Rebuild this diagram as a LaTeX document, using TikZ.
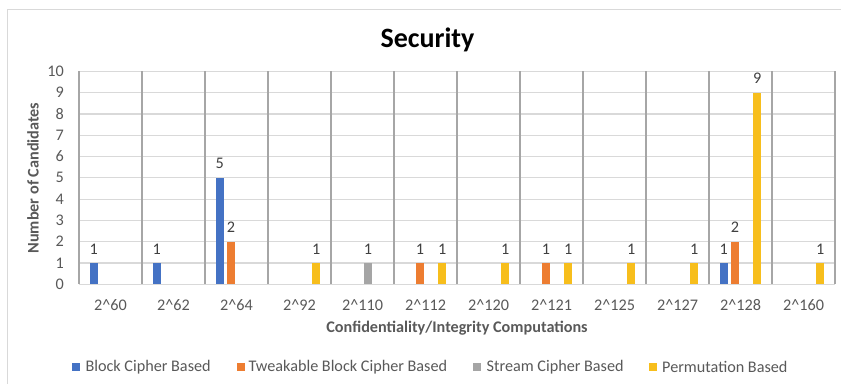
\documentclass[tikz,border=0pt]{standalone}
\usepackage{fontspec}
\setmainfont{Carlito}
\definecolor{cB}{HTML}{4472C4}
\definecolor{cT}{HTML}{ED7D31}
\definecolor{cS}{HTML}{A5A5A5}
\definecolor{cP}{HTML}{F7BE1C}
\definecolor{gridc}{HTML}{D9D9D9}
\definecolor{sepc}{HTML}{A6A6A6}
\definecolor{tickc}{HTML}{595959}
\definecolor{valc}{HTML}{404040}
\tikzset{
  gridline/.style={draw=gridc, line width=1.2pt},
  sepline/.style={draw=sepc, line width=2pt},
  ticklab/.style={text=tickc, inner sep=0pt},
  vallab/.style={text=valc, inner sep=0pt},
  axtitle/.style={text=tickc, inner sep=0pt, font=\fontsize{16.2}{19}\selectfont\bfseries},
  legbox/.style={minimum size=8pt, inner sep=0pt},
  legtext/.style={text=tickc, anchor=west, inner sep=0pt}
}
\begin{document}
\begin{tikzpicture}[x=1pt,y=-1pt,font=\fontsize{16.2}{19}\selectfont]
\useasboundingbox (0,0) rectangle (841,384);
\fill[white] (0,0) rectangle (841,384);
\draw[gridc, line width=1pt] (841,9) -- (7,9) -- (7,384);
% title
\node[inner sep=0pt, anchor=base, font=\fontsize{28}{32}\selectfont\bfseries] (title) at (427.5,47) {Security};
% horizontal gridlines and y tick labels
\foreach \v in {0,...,10}{
  \draw[gridline] (79,{284.3-21.3*\v}) -- (835,{284.3-21.3*\v});
  \node[ticklab, anchor=east] (y\v) at (64,{284.3-21.3*\v}) {\v};
}
% category separators
\foreach \k in {0,...,12}{
  \draw[sepline] ({79+63*\k},71.3) -- ({79+63*\k},284.3);
}
% x tick labels
\foreach \k/\t in {0/60,1/62,2/64,3/92,4/110,5/112,6/120,7/121,8/125,9/127,10/128,11/160}{
  \node[ticklab] (x\k) at ({79+63*\k+31.5},305) {2\textasciicircum\t};
}
% bars
\foreach \k/\s/\v/\c in {0/0/1/cB,1/0/1/cB,2/0/5/cB,2/1/2/cT,3/3/1/cP,4/2/1/cS,5/1/1/cT,5/3/1/cP,6/3/1/cP,7/1/1/cT,7/3/1/cP,8/3/1/cP,9/3/1/cP,10/0/1/cB,10/1/2/cT,10/3/9/cP,11/3/1/cP}{
  \pgfmathsetmacro\xc{79+63*\k+31.5+(\s-1.5)*11.2}
  \fill[\c] ({\xc-4},284.3) rectangle ({\xc+4},{284.3-21.3*\v});
  \node[vallab] (v\k-\s) at (\xc,{284.3-21.3*\v-14}) {\v};
}
% axis titles
\node[axtitle] (xt) at (457,328) {Confidentiality/Integrity Computations};
\node[axtitle, rotate=90] (yt) at (33,178) {Number of Candidates};
% legend
\node[legbox, fill=cB] (lb1) at (76,367) {};
\node[legtext] (lt1) at (85.3,367) {Block Cipher Based};
\node[legbox, fill=cT] (lb2) at (240.5,367) {};
\node[legtext] (lt2) at (248.5,367) {Tweakable Block Cipher Based};
\node[legbox, fill=cS] (lb3) at (477,367) {};
\node[legtext] (lt3) at (486.5,367) {Stream Cipher Based};
\node[legbox, fill=cP] (lb4) at (653,367) {};
\node[legtext] (lt4) at (662,367) {Permutation Based};
\end{tikzpicture}
\end{document}
